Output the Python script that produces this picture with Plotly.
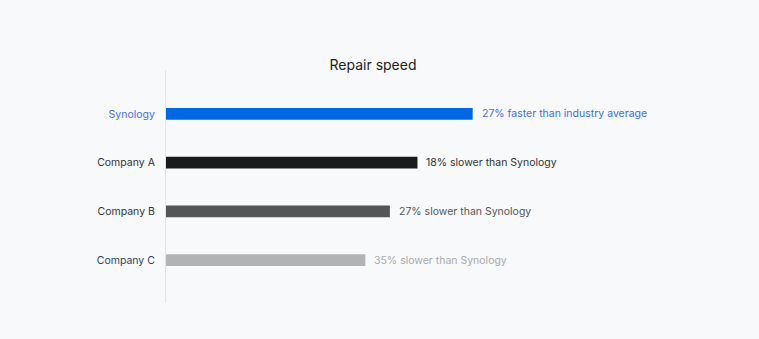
import plotly.graph_objects as go

categories = ["Synology", "Company A", "Company B", "Company C"]
values = [100, 82, 73, 65]
value_labels = ["27% faster than industry average", "18% slower than Synology",
                "27% slower than Synology", "35% slower than Synology"]
bar_colors = ["#0068e3", "#1b1b1b", "#555555", "#b3b3b3"]
label_colors = ["#3d6ee8", "#333333", "#555555", "#aaaaaa"]
tick_colors = ["#4a6cf0", "#333333", "#333333", "#2a3f66"]

fig = go.Figure()
fig.add_trace(go.Bar(
    x=values, y=categories, orientation="h",
    marker=dict(color=bar_colors, line=dict(width=0)),
    width=0.245, hoverinfo="skip",
))

for c, v, t, col in zip(categories, values, value_labels, label_colors):
    fig.add_annotation(x=v, y=c, text=t, showarrow=False, xanchor="left",
                       xshift=7, font=dict(color=col, size=10.5, family="Inter"))

fig.update_layout(
    width=759, height=339,
    margin=dict(l=166, r=132.5, t=70, b=36),
    paper_bgcolor="#f8f9fb", plot_bgcolor="#f8f9fb",
    title=dict(text="Repair speed", x=373/759, xanchor="center", y=1-65/339, yanchor="middle",
               font=dict(family="Inter", size=14, color="#222222")),
    font=dict(family="Inter", size=10.5, color="#333333"),
    showlegend=False,
    xaxis=dict(range=[0, 150], visible=False, fixedrange=True),
    yaxis=dict(
        type="category", range=[3.88, -0.9],
        tickmode="array", tickvals=categories,
        ticktext=[f'<span style="color:{c}">{n}</span>' for n, c in zip(categories, tick_colors)],
        showline=True, linecolor="#e1e3e8", linewidth=1,
        showgrid=False, zeroline=False, ticks="", ticklabelstandoff=8,
    ),
)

fig.write_html("out.html")
